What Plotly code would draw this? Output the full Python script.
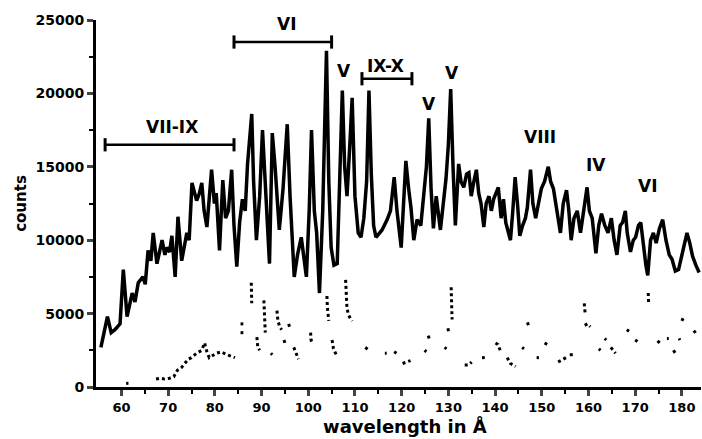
import plotly.graph_objects as go

# ---- main spectrum (wavelength in Å, counts) ----
wl = [55.6, 56.3, 57.0, 57.8, 58.6, 59.7, 60.4, 61.2, 61.8, 62.3, 62.9, 63.6, 64.6, 65.1, 65.7,
      66.3, 66.8, 67.6, 68.7, 69.3, 69.7, 70.3, 70.8, 71.5, 72.1, 72.9, 74.0, 74.5, 75.1, 76.1,
      76.7, 77.2, 77.7, 78.3, 79.3, 79.9, 80.3, 81.0, 81.7, 82.3, 82.9, 83.6, 84.1, 84.7, 85.3,
      85.9, 86.5, 87.0, 87.9, 88.3, 88.9, 89.6, 90.2, 90.9, 91.7, 92.3, 92.9, 93.8, 94.6, 95.5,
      96.1, 97.0, 97.7, 98.5, 99.6, 100.2, 100.7, 101.3, 101.8, 102.4, 103.1, 103.9, 104.4, 104.9,
      105.5, 106.2, 106.8, 107.3, 107.8, 108.3, 108.9, 109.4, 110.0, 110.7, 111.3, 111.9, 112.5,
      113.0, 113.5, 114.0, 114.5, 115.2, 115.8, 116.9, 117.6, 118.4, 119.0, 119.9, 120.9, 121.5,
      122.0, 122.6, 123.3, 124.1, 124.7, 125.3, 125.8, 126.3, 126.8, 127.4, 128.3, 128.9, 129.5,
      130.0, 130.5, 131.0, 131.5, 132.2, 132.7, 133.3, 133.9, 134.4, 134.9, 135.4, 136.0, 136.5,
      137.0, 137.6, 138.1, 138.7, 139.2, 139.7, 140.7, 141.3, 141.8, 142.3, 143.3, 143.8, 144.3,
      144.8, 145.3, 145.9, 146.5, 146.9, 147.6, 148.1, 148.7, 149.3, 149.9, 150.6, 151.4, 151.9,
      152.5, 153.0, 154.0, 154.6, 155.3, 155.8, 156.3, 156.9, 157.6, 158.3, 159.0, 159.7, 160.2,
      160.8, 161.6, 162.2, 162.8, 163.5, 164.2, 164.9, 165.5, 166.1, 166.8, 167.3, 167.9, 168.3,
      169.0, 169.6, 170.1, 170.7, 171.2, 171.8, 172.3, 172.7, 173.3, 173.9, 174.5, 175.2, 175.9,
      176.6, 177.3, 177.9, 178.6, 179.3, 180.0, 180.6, 181.1, 181.7, 182.3, 183.0, 183.7]
counts = [2700, 3800, 4800, 3700, 3900, 4300, 8000, 4800, 5600, 6400, 5800, 7100, 7500, 7000, 9300,
          8600, 10500, 8400, 10000, 9000, 9500, 9200, 10300, 7500, 11600, 8600, 10500, 10000, 13900, 12700,
          13200, 13900, 12000, 10900, 14800, 12500, 13200, 9300, 14100, 11500, 12000, 14800, 11000, 8200, 11200,
          12800, 12000, 15200, 18600, 14000, 10000, 13000, 17500, 13000, 8400, 17300, 15000, 10700, 13500, 17900,
          13000, 7500, 9000, 10200, 7500, 12000, 17500, 12000, 10500, 6400, 12000, 22900, 14000, 9500,
          8300, 8400, 14000, 20200, 15000, 13000, 16500, 19700, 13000, 10500, 10200, 11500, 14000,
          20200, 14500, 11000, 10200, 10500, 10700, 11400, 12000, 14300, 12000, 9500, 15400, 13500,
          12200, 10000, 11400, 11000, 12800, 15000, 18300, 13500, 10800, 13000, 10700, 12500, 14200,
          16500, 20300, 15000, 11000, 15200, 14000, 13600, 14500, 14600, 13000, 13900, 14800, 13200,
          12500, 10900, 12500, 13000, 12000, 12800, 13600, 11500, 12800, 11200, 10000, 12000, 14300,
          12500, 10300, 11000, 11500, 12200, 14800, 12500, 11500, 12500, 13500, 14000, 15000, 14000,
          13500, 12500, 10500, 12500, 13400, 12000, 10000, 11500, 12000, 10500, 12000, 13600, 12000,
          11500, 9100, 11000, 11800, 11000, 10500, 11500, 10000, 9000, 11000, 11200, 12000, 10500,
          9200, 10000, 10200, 11000, 11200, 9500, 8300, 7600, 10000, 10500, 9800, 10800, 11400,
          10000, 9000, 8700, 7900, 8000, 9000, 10000, 10500, 9800, 8900, 8300, 7800]

# ---- lower dotted series (None = gap) ----
d_wl = [61.0, 61.5, None,
        67.4, 68.3, 69.2, 70.3, 71.2, 72.0, 72.8, 73.5, 74.3, 75.0, 76.1, 77.2, 77.8, 78.2, 78.8,
        79.3, 80.3, 81.4, 82.5, 83.5, 84.3, None,
        85.5, 86.1, None, 85.5, 86.1, None,
        87.8, 87.8, 87.9, None,
        89.0, 89.2, 89.6, None,
        90.5, 90.6, 90.8, None,
        92.0, 92.3, None,
        93.3, 93.5, 93.9, 94.3, None,
        94.8, 95.1, None,
        95.8, 96.1, None,
        96.9, 97.4, 97.9, None,
        100.5, 100.6, 100.9, None,
        104.0, 104.1, 104.4, None,
        105.1, 105.4, 106.0, None,
        108.0, 108.1, 108.3, 108.8, 109.4, None,
        112.2, 113.0, None,
        116.4, 116.8, None,
        118.4, 118.9, None,
        120.2, 121.0, 121.9, None,
        124.9, 125.3, None,
        125.7, 125.9, None,
        129.2, 129.6, None,
        129.9, 130.1, None,
        130.6, 130.7, 130.8, None,
        133.5, 134.3, 135.0, None,
        137.2, 137.8, None,
        140.1, 140.6, 141.1, None,
        142.6, 143.3, 144.4, None,
        145.8, 146.2, None,
        146.9, 147.2, None,
        148.9, 149.4, None,
        150.6, 151.2, None,
        153.5, 154.6, 155.2, None,
        156.0, 156.9, None,
        159.1, 159.2, 159.3, None,
        159.2, 159.8, 160.4, None,
        162.2, 162.6, None,
        163.5, 163.8, None,
        164.8, 165.4, 165.8, None,
        168.2, 168.7, None,
        170.0, 170.5, None,
        172.8, 172.8, 172.9, None,
        174.8, 175.4, None,
        176.8, 177.2, None,
        178.2, 178.6, None,
        179.4, 179.6, None,
        180.0, 180.3, 180.8, None,
        182.5, 183.3]
d_counts = [250, 250, None,
            550, 600, 550, 600, 700, 1150, 1300, 1600, 1900, 2000, 2300, 2500, 3000, 2500, 2000,
            2100, 2300, 2400, 2200, 2100, 2000, None,
            3700, 3700, None, 4300, 4300, None,
            7100, 6400, 5700, None,
            3400, 2700, 2500, None,
            5900, 4500, 3700, None,
            2300, 2200, None,
            5200, 4500, 4100, 3900, None,
            3200, 2900, None,
            4300, 4000, None,
            2700, 2300, 1900, None,
            3700, 3200, 3000, None,
            6200, 5400, 4500, None,
            3200, 2600, 2200, None,
            7300, 6300, 5300, 4800, 4500, None,
            2700, 2500, None,
            2300, 2300, None,
            2400, 2300, None,
            1600, 1700, 1800, None,
            2500, 2400, None,
            3500, 3300, None,
            2700, 2600, None,
            4000, 3700, None,
            6800, 5800, 4600, None,
            1500, 1500, 1700, None,
            2000, 2000, None,
            3000, 2900, 2500, None,
            2000, 1600, 1400, None,
            2700, 2600, None,
            4400, 4200, None,
            2000, 2000, None,
            3000, 2900, None,
            1700, 1900, 2000, None,
            2200, 2200, None,
            5700, 5300, 5000, None,
            4200, 4300, 4100, None,
            2600, 2500, None,
            3300, 3200, None,
            2700, 2500, 2300, None,
            3900, 3800, None,
            3200, 3100, None,
            6400, 6000, 5600, None,
            3000, 3200, None,
            3300, 3300, None,
            2500, 2300, None,
            3300, 3200, None,
            4500, 4700, 4600, None,
            3700, 3900]

# ---- ionisation-stage brackets and labels ----
br_start = [56.5, 84.1, 111.5]
br_end = [84.1, 105.0, 122.2]
br_level = [16500, 23500, 21000]
br_label = ["VII-IX", "VI", "IX-X"]
br_label_x = [70.8, 95.3, 116.6]
br_label_y = [17700, 24700, 21900]

pk_label = ["V", "V", "V", "VIII", "IV", "VI"]
pk_x = [107.7, 125.8, 130.7, 149.7, 161.6, 172.7]
pk_y = [21500, 19300, 21400, 17000, 15100, 13700]

x_ticks = [60, 70, 80, 90, 100, 110, 120, 130, 140, 150, 160, 170, 180]
y_ticks = [0, 5000, 10000, 15000, 20000, 25000]

FONT = "DejaVu Sans"

fig = go.Figure()
fig.add_trace(go.Scatter(x=wl, y=counts, mode="lines",
                         line=dict(color="black", width=3.5), showlegend=False))
fig.add_trace(go.Scatter(x=d_wl, y=d_counts, mode="lines", connectgaps=False,
                         line=dict(color="black", width=3, dash="dot"), showlegend=False))

cap = 450
for s, e, lv in zip(br_start, br_end, br_level):
    fig.add_shape(type="line", x0=s, x1=e, y0=lv, y1=lv, xref="x", yref="y",
                  line=dict(color="black", width=2.5))
    for xx in (s, e):
        fig.add_shape(type="line", x0=xx, x1=xx, y0=lv - cap, y1=lv + cap, xref="x", yref="y",
                      line=dict(color="black", width=3))

for t, xx, yy in zip(br_label + pk_label, br_label_x + pk_x, br_label_y + pk_y):
    fig.add_annotation(x=xx, y=yy, text="<b>%s</b>" % t, showarrow=False,
                       font=dict(family=FONT, size=17, color="black"), yanchor="middle")

# x-axis title (sits right of centre in the reference)
fig.add_annotation(x=0.51, y=-0.105, xref="paper", yref="paper", showarrow=False,
                   text="<b>wavelength in Å</b>", yanchor="middle", xanchor="center",
                   font=dict(family=FONT, size=18, color="black"))

fig.update_layout(
    width=702, height=439,
    margin=dict(l=96, r=1, t=20, b=52),
    plot_bgcolor="white", paper_bgcolor="white",
    font=dict(family=FONT, color="black"),
)
fig.update_xaxes(range=[54.55, 184.1], tickvals=x_ticks, ticks="outside", ticklen=6, tickwidth=2.5,
                 showline=True, linewidth=3, linecolor="black", showgrid=False, zeroline=False,
                 ticklabeloverflow="allow",
                 tickfont=dict(family=FONT, size=13, weight="bold"),
                 minor=dict(tickvals=[65, 75, 85, 95, 105, 115, 125, 135, 145, 155, 165, 175],
                            ticks="outside", ticklen=4, tickwidth=2, tickcolor="black"))
fig.update_yaxes(range=[0, 25000], tickvals=y_ticks, tickformat="d", ticks="outside", ticklen=6,
                 tickwidth=2.5,
                 showline=True, linewidth=3, linecolor="black", showgrid=False, zeroline=False,
                 tickfont=dict(family=FONT, size=14, weight="bold"),
                 minor=dict(tickvals=[2500, 7500, 12500, 17500, 22500],
                            ticks="outside", ticklen=4, tickwidth=2, tickcolor="black"),
                 title=dict(text="<b>counts</b>", font=dict(family=FONT, size=15), standoff=6))

# remove the default page margin so the 702x439 figure fills the window exactly
fig.write_html("out.html",
               config={"displayModeBar": False},
               post_script="document.documentElement.style.overflow='hidden';"
                           "document.body.style.margin='0';"
                           "document.body.style.overflow='hidden';")
